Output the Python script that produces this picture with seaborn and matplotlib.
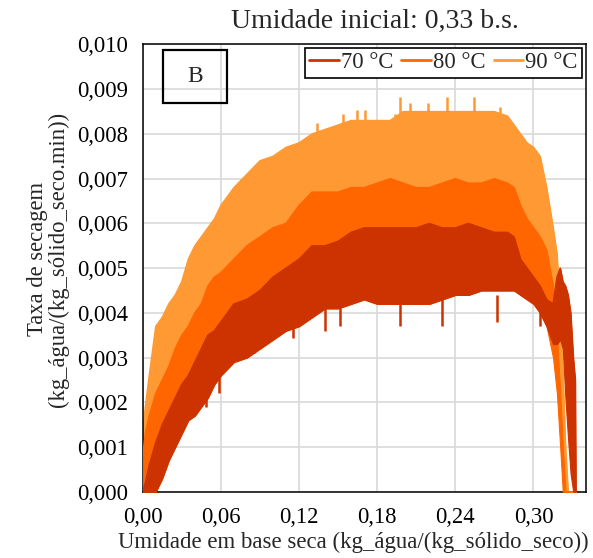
import numpy as np
import pandas as pd
import matplotlib
matplotlib.use("Agg")
import matplotlib.pyplot as plt
import seaborn as sns
from matplotlib.patches import Rectangle

# moisture (dry basis) sample positions
umidade = [0, 0.002, 0.005, 0.01, 0.015, 0.02, 0.025, 0.03, 0.035, 0.04,
           0.045, 0.05, 0.055, 0.06, 0.07, 0.08, 0.09, 0.10, 0.11, 0.12,
           0.13, 0.14, 0.15, 0.16, 0.17, 0.18, 0.19, 0.20, 0.21, 0.22,
           0.23, 0.24, 0.25, 0.26, 0.27, 0.28,
           0.285, 0.29, 0.295, 0.30, 0.305, 0.31,
           0.315, 0.318, 0.3205, 0.3225, 0.3245, 0.3265, 0.3285, 0.3305, 0.332, 0.3325]

# upper / lower edge of the noisy drying-rate band of each temperature
sup_90 = [0.0013, 0.0019, 0.0026, 0.0037, 0.0039, 0.0042, 0.0044, 0.0047, 0.0052, 0.0055,
          0.0057, 0.0059, 0.0061, 0.0064, 0.0068, 0.0071, 0.0074, 0.0075, 0.0077, 0.0078,
          0.0080, 0.0081, 0.0082, 0.0083, 0.0083, 0.0083, 0.0083, 0.0085, 0.0085, 0.0085,
          0.0085, 0.0085, 0.0085, 0.0085, 0.0085, 0.0084,
          0.0082, 0.0080, 0.0078, 0.0077, 0.0075, 0.0068,
          0.0059, 0.0053, 0.0040, 0.0027, 0.0010, 0, 0, 0, 0, 0]
sup_80 = [0.0008, 0.0013, 0.0017, 0.0022, 0.0025, 0.0028, 0.0032, 0.0035, 0.0037, 0.0040,
          0.0042, 0.0046, 0.0048, 0.0049, 0.0052, 0.0055, 0.0057, 0.0059, 0.0060, 0.0064,
          0.0067, 0.0067, 0.0067, 0.0068, 0.0068, 0.0069, 0.0070, 0.0069, 0.0068, 0.0068,
          0.0069, 0.0070, 0.0069, 0.0069, 0.0070, 0.0069,
          0.0068, 0.0064, 0.0061, 0.0059, 0.0057, 0.0054,
          0.0046, 0.0035, 0.0022, 0.0010, 0, 0, 0, 0, 0, 0]
sup_70 = [0.0, 0.0002, 0.0006, 0.0011, 0.0015, 0.0018, 0.0021, 0.0024, 0.0026, 0.0029,
          0.0032, 0.0035, 0.0036, 0.0038, 0.0042, 0.0043, 0.0045, 0.0048, 0.0050, 0.0052,
          0.0055, 0.0055, 0.0056, 0.0058, 0.0059, 0.0059, 0.0059, 0.0059, 0.0059, 0.0060,
          0.0059, 0.0059, 0.0060, 0.0059, 0.0058, 0.0058,
          0.0057, 0.0052, 0.0050, 0.0048, 0.0046, 0.0043,
          0.0042, 0.0048, 0.0050, 0.0047, 0.0046, 0.0044, 0.0040, 0.0030, 0.0025, 0]
inf_70 = [0, 0, 0, 0, 0.0003, 0.0007, 0.0010, 0.0013, 0.0016, 0.0017,
          0.0019, 0.0021, 0.0024, 0.0026, 0.0029, 0.0030, 0.0032, 0.0034, 0.0036, 0.0037,
          0.0039, 0.0041, 0.0041, 0.0042, 0.0043, 0.0042, 0.0042, 0.0042, 0.0042, 0.0042,
          0.0043, 0.0044, 0.0044, 0.0045, 0.0045, 0.0045,
          0.0045, 0.0044, 0.0043, 0.0042, 0.0040, 0.0037,
          0.0033, 0.0033, 0.0034, 0.0032, 0.0021, 0.0012, 0.0004, 0, 0, 0]
# hidden under the 70 °C band in the middle, only the tails differ
inf_80 = inf_70[:42] + [0.0030, 0.0022, 0.0010, 0, 0, 0, 0, 0, 0, 0]
inf_90 = inf_70[:42] + [0.0033, 0.0030, 0.0019, 0.0012, 0, 0, 0, 0, 0, 0]

# isolated spikes standing out of the bands
pico_90_x = [0.1336, 0.154, 0.1644, 0.1707, 0.1938, 0.1976, 0.2053, 0.2189, 0.2335, 0.2547, 0.2744]
pico_90_y = [0.00825, 0.00845, 0.00853, 0.00853, 0.00845, 0.00883, 0.0087, 0.0087, 0.00883, 0.00883, 0.0086]
pico_70_x = [0.0484, 0.0586, 0.0858, 0.1157, 0.14, 0.1515, 0.1976, 0.2301, 0.2719, 0.305]
pico_70_y = [0.0019, 0.0022, 0.0031, 0.00343, 0.0036, 0.0037, 0.0037, 0.0037, 0.0038, 0.0037]

series = ["70 °C", "80 °C", "90 °C"]
cores = {"70 °C": "#CC3300", "80 °C": "#FF6600", "90 °C": "#FF9933"}

xticks = [0.00, 0.06, 0.12, 0.18, 0.24, 0.30]
xtick_labels = ["0,00", "0,06", "0,12", "0,18", "0,24", "0,30"]
yticks = [0.000, 0.001, 0.002, 0.003, 0.004, 0.005, 0.006, 0.007, 0.008, 0.009, 0.010]
ytick_labels = ["0,000", "0,001", "0,002", "0,003", "0,004", "0,005",
                "0,006", "0,007", "0,008", "0,009", "0,010"]

df = pd.DataFrame({"x": umidade * 3,
                   "sup": sup_70 + sup_80 + sup_90,
                   "inf": inf_70 + inf_80 + inf_90,
                   "serie": ["70 °C"] * len(umidade) + ["80 °C"] * len(umidade) + ["90 °C"] * len(umidade)})

sns.set_style("whitegrid")
plt.rcParams["font.family"] = ["Liberation Serif", "DejaVu Serif"]

fig = plt.figure(figsize=(5.93, 5.58), dpi=100)
ax = fig.add_axes([0.2406, 0.1188, 0.7469, 0.8015])

# 90 first, 70 on top
for i, s in enumerate(["90 °C", "80 °C", "70 °C"]):
    d = df[df["serie"] == s]
    ax.fill_between(d["x"], d["inf"], d["sup"], color=cores[s], lw=0.8,
                    edgecolor=cores[s], zorder=2 + i)
    sns.lineplot(x=d["x"].values, y=d["sup"].values, color=cores[s], lw=1.0,
                 sort=False, estimator=None, label=s, ax=ax, zorder=2 + i)

ax.vlines(pico_90_x, [v - 0.0006 for v in pico_90_y], pico_90_y, color=cores["90 °C"], lw=1.8, zorder=2)
ax.vlines(pico_70_x, pico_70_y, [v + 0.0006 for v in pico_70_y], color=cores["70 °C"], lw=1.8, zorder=4)

ax.set_xlim(0, 0.34)
ax.set_ylim(0, 0.010)
ax.set_xticks(xticks)
ax.set_xticklabels(xtick_labels)
ax.set_yticks(yticks)
ax.set_yticklabels(ytick_labels)
ax.grid(True, color="#d9d9d9", lw=1.2)
ax.set_axisbelow(True)
for sp in ax.spines.values():
    sp.set_color("black")
    sp.set_linewidth(1.1)
ax.tick_params(axis="both", direction="inout", length=9.5, width=1, colors="black",
               labelsize=16.3)
ax.tick_params(axis="y", pad=6)
ax.tick_params(axis="x", pad=6)

ax.set_xlabel("Umidade em base seca (kg_água/(kg_sólido_seco))", fontsize=16.4)
ax.xaxis.set_label_coords(0.475, -0.09)
ax.set_ylabel("Taxa de secagem\n(kg_água/(kg_sólido_seco.min))", fontsize=16.3, linespacing=1.0)
ax.yaxis.set_label_coords(-0.166, 0.52)

fig.text(375 / 593, 1 - 28.3 / 558, "Umidade inicial: 0,33 b.s.", fontsize=20,
         ha="center", va="baseline")

# "B" panel tag
ax.add_patch(Rectangle((0.0465, 0.870), 0.143, 0.118, transform=ax.transAxes,
                       fill=False, ec="black", lw=1.6, zorder=10))
ax.text(0.118, 0.929, "B", transform=ax.transAxes, fontsize=17,
        ha="center", va="center", zorder=10)

h, l = ax.get_legend_handles_labels()
order = [l.index(s) for s in series]
leg = ax.legend([h[k] for k in order], [l[k] for k in order], loc="upper right",
                ncol=3, fontsize=16.3, frameon=True, fancybox=False, framealpha=1,
                edgecolor="black", handlelength=1.3, handletextpad=0.1,
                columnspacing=0.35, borderpad=0.2, borderaxespad=0.15)
leg.get_frame().set_linewidth(1.2)
for ln in leg.get_lines():
    ln.set_linewidth(2)
leg.set_zorder(10)

fig.savefig("out.png", dpi=100)
